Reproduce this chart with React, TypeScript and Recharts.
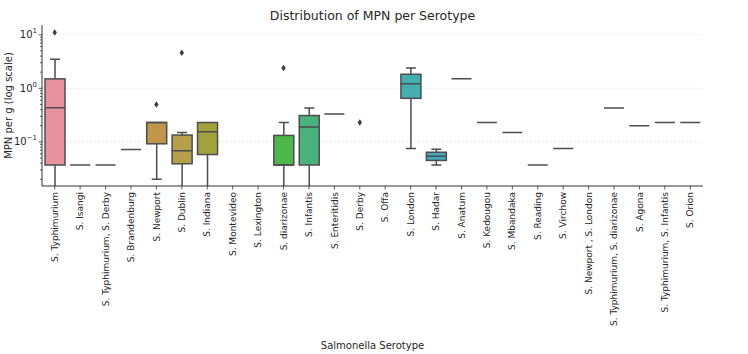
import { ComposedChart, Bar, Scatter, XAxis, YAxis, CartesianGrid } from "recharts";

const categories = [
  "S. Typhimurium",
  "S. Isangi",
  "S. Typhimurium, S. Derby",
  "S. Brandenburg",
  "S. Newport",
  "S. Dublin",
  "S. Indiana",
  "S. Montevideo",
  "S. Lexington",
  "S. diarizonae",
  "S. Infantis",
  "S. Enteritidis",
  "S. Derby",
  "S. Offa",
  "S. London",
  "S. Hadar",
  "S. Anatum",
  "S. Kedougou",
  "S. Mbandaka",
  "S. Reading",
  "S. Virchow",
  "S. Newport , S. London",
  "S. Typhimurium, S. diarizonae",
  "S. Agona",
  "S. Typhimurium, S. Infantis",
  "S. Orion",
];

// box stats (null = nothing drawn); 0 = whisker runs off the log axis
const q1 = [0.037, 0.037, 0.037, 0.072, 0.092, 0.039, 0.058, null, null, 0.037, 0.037, 0.33, null, null, 0.65, 0.045, 1.5, 0.23, 0.15, 0.037, 0.075, null, 0.43, 0.2, 0.23, 0.23];
const median = [0.435, 0.037, 0.037, 0.072, 0.23, 0.068, 0.155, null, null, 0.037, 0.19, 0.33, null, null, 1.22, 0.054, 1.5, 0.23, 0.15, 0.037, 0.075, null, 0.43, 0.2, 0.23, 0.23];
const q3 = [1.5, 0.037, 0.037, 0.072, 0.23, 0.134, 0.23, null, null, 0.132, 0.31, 0.33, null, null, 1.83, 0.064, 1.5, 0.23, 0.15, 0.037, 0.075, null, 0.43, 0.2, 0.23, 0.23];
const whiskerLow = [0, 0.037, 0.037, 0.072, 0.02, 0, 0, null, null, 0, 0, 0.33, null, null, 0.075, 0.037, 1.5, 0.23, 0.15, 0.037, 0.075, null, 0.43, 0.2, 0.23, 0.23];
const whiskerHigh = [3.5, 0.037, 0.037, 0.072, 0.23, 0.15, 0.23, null, null, 0.23, 0.43, 0.33, null, null, 2.4, 0.073, 1.5, 0.23, 0.15, 0.037, 0.075, null, 0.43, 0.2, 0.23, 0.23];
const outliers = [11, null, null, null, 0.5, 4.6, null, null, null, 2.4, null, null, 0.23, null, null, null, null, null, null, null, null, null, null, null, null, null];

const palette = [
  "#e8929f", "#e59586", "#dd9a66", "#cf9b4d", "#c1964b", "#b59f48", "#a1a13e",
  "#8ea83f", "#6cae46", "#4db748", "#4ab27d", "#48b08f", "#47b09e", "#46afa8",
  "#45aeb1", "#44a9bd", "#48a3c8", "#5a9ad4", "#7d92dc", "#9a8ade", "#b486d9",
  "#c884cf", "#d985c0", "#e287b2", "#e68aa8", "#e78ea3",
];

const yMajorTicks = [0.1, 1, 10];
const yMinorTicks: number[] = [];
[0.01, 0.1, 1].forEach((d) => {
  for (let m = 2; m <= 9; m++) yMinorTicks.push(+(m * d).toPrecision(2));
});

const Y_MIN = 0.015;
const Y_MAX = 15.2;
const EDGE = "#4d4d4d";
const AXIS = "#333333";
const TEXT = "#262626";
const BOX_W = 20;
const FONT = "DejaVu Sans, sans-serif";

const data = categories.map((name, i) => {
  const a = q1[i];
  const b = q3[i];
  const lo = whiskerLow[i];
  const hi = whiskerHigh[i];
  return {
    name,
    color: palette[i],
    box: a != null && b != null && b > a ? [a, b] : null,
    lowW: lo != null && a != null && a > lo ? [Math.max(lo, Y_MIN), a] : null,
    lowCap: lo != null && lo > 0,
    highW: hi != null && b != null && hi > b ? [b, hi] : null,
    med: median[i],
    out: outliers[i],
  };
});

const BoxShape = (props: any) => {
  const { x, y, width, height, payload } = props;
  if (!payload || payload.box == null) return <g />;
  return (
    <rect x={x} y={y} width={width} height={height} fill={payload.color} stroke={EDGE} strokeWidth={1.5} />
  );
};

const LowWhisker = (props: any) => {
  const { x, y, width, height, payload } = props;
  if (!payload || payload.lowW == null) return <g />;
  const cx = x + width / 2;
  return (
    <g stroke={EDGE} strokeWidth={1.5}>
      <line x1={cx} x2={cx} y1={y} y2={y + height} />
      {payload.lowCap && <line x1={cx - width / 4} x2={cx + width / 4} y1={y + height} y2={y + height} />}
    </g>
  );
};

const HighWhisker = (props: any) => {
  const { x, y, width, height, payload } = props;
  if (!payload || payload.highW == null) return <g />;
  const cx = x + width / 2;
  return (
    <g stroke={EDGE} strokeWidth={1.5}>
      <line x1={cx} x2={cx} y1={y} y2={y + height} />
      <line x1={cx - width / 4} x2={cx + width / 4} y1={y} y2={y} />
    </g>
  );
};

const MedianShape = (props: any) => {
  const { cx, cy, payload } = props;
  if (!payload || payload.med == null || !isFinite(cy)) return <g />;
  return <line x1={cx - BOX_W / 2} x2={cx + BOX_W / 2} y1={cy} y2={cy} stroke={EDGE} strokeWidth={1.5} />;
};

const OutlierShape = (props: any) => {
  const { cx, cy, payload } = props;
  if (!payload || payload.out == null || !isFinite(cy)) return <g />;
  return <path d={`M${cx},${cy - 3.2}L${cx + 2.2},${cy}L${cx},${cy + 3.2}L${cx - 2.2},${cy}Z`} fill="#3d3d3d" />;
};

const supers: Record<string, string> = { "-1": "\u22121", "0": "0", "1": "1" };

const YTick = (props: any) => {
  const { x, y, payload } = props;
  const v = payload.value;
  const exp = Math.round(Math.log10(v));
  const major = Math.abs(Math.log10(v) - exp) < 1e-6;
  return (
    <g>
      <line x1={x - (major ? 3.5 : 2)} x2={x} y1={y} y2={y} stroke={AXIS} strokeWidth={0.8} />
      {major && (
        <text x={x - 5} y={y} dy="0.35em" textAnchor="end" fill={TEXT} fontSize={10} fontFamily={FONT}>
          10
          <tspan dy={-5} fontSize={7}>
            {supers[String(exp)]}
          </tspan>
        </text>
      )}
    </g>
  );
};

const XTick = (props: any) => {
  const { x, y, payload } = props;
  return (
    <g>
      <line x1={x} x2={x} y1={y} y2={y + 3.5} stroke={AXIS} strokeWidth={0.8} />
      <text
        x={x}
        y={y + 6}
        dy="0.35em"
        textAnchor="end"
        transform={`rotate(-90, ${x}, ${y + 6})`}
        fill={TEXT}
        fontSize={9}
        fontFamily={FONT}
      >
        {payload.value}
      </text>
    </g>
  );
};

export default function App() {
  return (
    <div style={{ position: "absolute", left: 0, top: 0, width: 748, height: 354, background: "#fff" }}>
      <div
        style={{
          position: "absolute",
          left: 42,
          top: 8,
          width: 661,
          textAlign: "center",
          fontFamily: FONT,
          fontSize: 12.5,
          lineHeight: "16px",
          color: TEXT,
        }}
      >
        Distribution of MPN per Serotype
      </div>
      <ComposedChart
        width={748}
        height={354}
        data={data}
        margin={{ top: 25, right: 45, bottom: 0, left: 0 }}
        barGap={-BOX_W}
        barSize={BOX_W}
      >
        <CartesianGrid
          vertical={false}
          horizontalValues={yMajorTicks}
          stroke="#e3e3e3"
          strokeDasharray="2 2"
          strokeWidth={0.8}
        />
        <XAxis
          dataKey="name"
          interval={0}
          height={168}
          tickLine={false}
          tickSize={0}
          tickMargin={0}
          tick={<XTick />}
          axisLine={{ stroke: AXIS, strokeWidth: 1 }}
          label={{ value: "Salmonella Serotype", position: "insideBottom", offset: 5, fill: TEXT, fontSize: 10, fontFamily: FONT }}
        />
        <YAxis
          scale="log"
          domain={[Y_MIN, Y_MAX]}
          allowDataOverflow
          ticks={[...yMinorTicks, ...yMajorTicks].sort((a, b) => a - b)}
          interval={0}
          width={42}
          tickLine={false}
          tickSize={0}
          tickMargin={0}
          tick={<YTick />}
          axisLine={{ stroke: AXIS, strokeWidth: 1 }}
          label={{
            value: "MPN per g (log scale)",
            angle: -90,
            position: "insideLeft",
            offset: 8,
            style: { textAnchor: "middle" },
            fill: TEXT,
            fontSize: 10,
            fontFamily: FONT,
          }}
        />
        <Bar dataKey="lowW" shape={<LowWhisker />} isAnimationActive={false} />
        <Bar dataKey="highW" shape={<HighWhisker />} isAnimationActive={false} />
        <Bar dataKey="box" shape={<BoxShape />} isAnimationActive={false} />
        <Scatter dataKey="med" shape={<MedianShape />} isAnimationActive={false} />
        <Scatter dataKey="out" shape={<OutlierShape />} isAnimationActive={false} />
      </ComposedChart>
    </div>
  );
}
